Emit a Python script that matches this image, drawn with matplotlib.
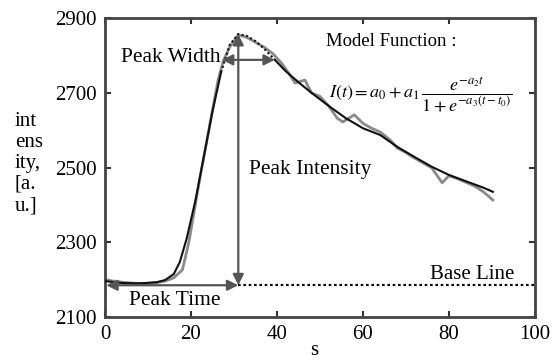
import numpy as np
import matplotlib.pyplot as plt

plt.rcParams['font.family'] = 'Liberation Serif'
plt.rcParams['mathtext.fontset'] = 'stix'

# measured intensity (gray trace)
t_meas = [0, 2, 4, 6, 8, 10, 12, 14, 16, 18, 19.5, 21, 22, 23.5, 25, 26.3, 27.5, 29, 31,
          33, 35, 37, 39, 41, 43, 44.2, 46.5, 48, 50, 52, 54, 55.3, 58, 60, 62, 64, 66.3,
          68, 70, 72, 74, 76, 78.4, 80, 82, 84, 86, 88, 90.2]
i_meas = [2200, 2196, 2193, 2191, 2190, 2190, 2192, 2196, 2205, 2226, 2300, 2400, 2467,
          2560, 2654, 2734, 2785, 2822, 2855, 2848, 2835, 2822, 2805, 2780, 2748, 2726,
          2734, 2700, 2690, 2665, 2632, 2622, 2641, 2618, 2605, 2595, 2574, 2552, 2540,
          2525, 2512, 2499, 2459, 2478, 2470, 2460, 2450, 2435, 2413]

# fitted model curve (black)
t_fit = [0, 4, 8, 12, 14, 16, 17.4, 19, 21, 23, 25, 27, 29, 31, 33, 35, 37, 39.5,
         42, 45, 48, 52, 56, 60, 64, 68, 72, 76, 80, 84, 88, 90.2]
i_fit = [2196, 2191, 2190, 2193, 2199, 2215, 2247, 2310, 2410, 2530, 2650, 2755, 2828,
         2857, 2852, 2838, 2818, 2788, 2758, 2728, 2700, 2665, 2632, 2605, 2587, 2555,
         2528, 2502, 2480, 2463, 2446, 2435]

base_line = 2185
peak_time = 31
peak_val = 2857
width_lo, width_hi, width_y = 27.2, 39.5, 2788

fig = plt.figure(figsize=(5.54, 3.6), dpi=100)
ax = fig.add_axes([0.1895, 0.1194, 0.7762, 0.8306])

ax.plot(t_meas, i_meas, color='#8a8a8a', lw=2.0, zorder=2)
fit_t = np.array(t_fit)
fit_i = np.array(i_fit)
rise = fit_t <= 27
tail = fit_t >= 39.5
pk = (fit_t >= 27) & (fit_t <= 39.5)
ax.plot(fit_t[rise], fit_i[rise], color='#111111', lw=1.5, zorder=3)
ax.plot(fit_t[tail], fit_i[tail], color='#111111', lw=1.5, zorder=3)
ax.plot(fit_t[pk], fit_i[pk], color='#111111', lw=1.5, ls=(0, (1, 1.2)), zorder=3)

# base line
ax.plot([peak_time, 100], [base_line, base_line], color='#111111', lw=1.6,
        ls=(0, (1.2, 1.2)), zorder=2)

arrow = dict(arrowstyle='<|-|>', color='#555555', lw=1.6, mutation_scale=16,
             shrinkA=0, shrinkB=0)
ax.annotate('', xy=(peak_time, peak_val), xytext=(peak_time, base_line), arrowprops=arrow)
ax.annotate('', xy=(0.3, base_line), xytext=(peak_time, base_line), arrowprops=arrow)
ax.annotate('', xy=(width_lo, width_y), xytext=(width_hi, width_y), arrowprops=arrow)

ax.text(27.0, width_y + 5, 'Peak Width', ha='right', va='center', fontsize=15.5)
ax.text(33.5, 2494, 'Peak Intensity', ha='left', va='center', fontsize=15.5)
ax.text(16.3, 2145, 'Peak Time', ha='center', va='center', fontsize=15.5)
ax.text(85.5, 2213, 'Base Line', ha='center', va='center', fontsize=15)
ax.text(66.5, 2838, 'Model Function :', ha='center', va='center', fontsize=13.5)
ax.text(73.5, 2694, r'$I(t) = a_0 + a_1\,\dfrac{e^{-a_2 t}}{1+e^{-a_3(t-t_0)}}$',
        ha='center', va='center', fontsize=13)

ax.set_xlim(0, 100)
ax.set_ylim(2100, 2900)
ax.set_xticks([0, 20, 40, 60, 80, 100])
ax.set_yticks([2100, 2300, 2500, 2700, 2900])
ax.tick_params(direction='in', length=4, width=1.5, top=True, right=True,
               labelsize=15, color='#333333', pad=6)
for s in ax.spines.values():
    s.set_color('#444444')
    s.set_linewidth(2)

fig.text(0.027, 0.69, 'int\nens\nity,\n[a.\nu.]', ha='left', va='top',
         fontsize=15, linespacing=1.15)
fig.text(0.568, 0.0, 's', ha='center', va='bottom', fontsize=15)

fig.savefig('out.png', dpi=100)
